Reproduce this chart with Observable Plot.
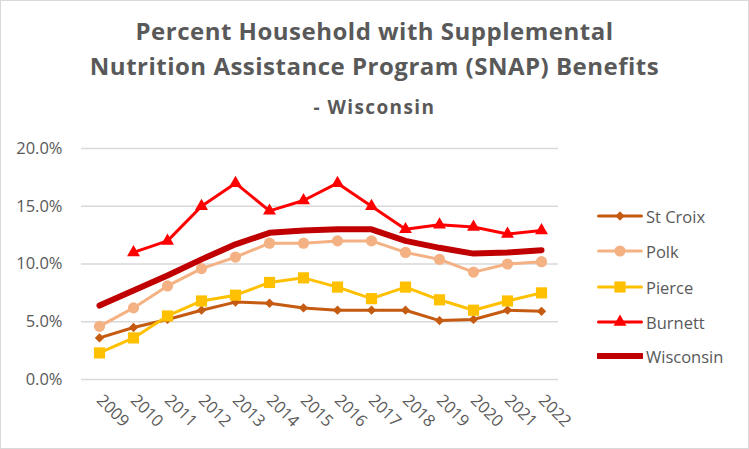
<!DOCTYPE html>
<html>
<head>
<meta charset="utf-8">
<script src="https://cdn.jsdelivr.net/npm/d3@7"></script>
<script src="https://cdn.jsdelivr.net/npm/@observablehq/plot@0.6"></script>
<style>
  html, body { margin: 0; padding: 0; background: #fff; }
  #wrap { position: relative; width: 749px; height: 449px; overflow: hidden; font-family: "Open Sans", sans-serif; color: #595959; }
  #frame { position: absolute; left: 0; top: 0; width: 749px; height: 449px; box-sizing: border-box; border: 1px solid #d9d9d9; pointer-events: none; }
  .title { position: absolute; left: 0; width: 749px; text-align: center; font-weight: bold; white-space: nowrap; }
  #t1 { top: 15px; font-size: 24px; line-height: 32px; letter-spacing: 0.5px; }
  #t2 { top: 50px; font-size: 24px; line-height: 32px; letter-spacing: 0.5px; }
  #t3 { top: 94px; font-size: 19px; line-height: 26px; letter-spacing: 1.4px; }
  #chart { position: absolute; left: 0; top: 120px; }
  .leg { position: absolute; left: 597px; height: 20px; display: flex; align-items: center; font-size: 16.5px; color: #595959; }
  .leg svg { margin-right: 3px; }
</style>
</head>
<body>
<div id="wrap">
  <div class="title" id="t1">Percent Household with Supplemental</div>
  <div class="title" id="t2">Nutrition Assistance Program (SNAP) Benefits</div>
  <div class="title" id="t3">- Wisconsin</div>
  <div id="chart"></div>
  <div id="legend"></div>
  <div id="frame"></div>
</div>
<script>
const years = ["2009","2010","2011","2012","2013","2014","2015","2016","2017","2018","2019","2020","2021","2022"];
const stCroix   = [3.6, 4.5, 5.2, 6.0, 6.7, 6.6, 6.2, 6.0, 6.0, 6.0, 5.1, 5.2, 6.0, 5.9];
const polk      = [4.6, 6.2, 8.1, 9.6, 10.6, 11.8, 11.8, 12.0, 12.0, 11.0, 10.4, 9.3, 10.0, 10.2];
const pierce    = [2.3, 3.6, 5.5, 6.8, 7.3, 8.4, 8.8, 8.0, 7.0, 8.0, 6.9, 6.0, 6.8, 7.5];
const burnett   = [null, 11.0, 12.0, 15.0, 17.0, 14.6, 15.5, 17.0, 15.0, 13.0, 13.4, 13.2, 12.6, 12.9];
const wisconsin = [6.4, 7.7, 9.0, 10.4, 11.7, 12.7, 12.9, 13.0, 13.0, 12.0, 11.4, 10.9, 11.0, 11.2];
const yTicks = [0, 5, 10, 15, 20];

const seriesNames = ["St Croix", "Polk", "Pierce", "Burnett", "Wisconsin"];
const seriesValues = [stCroix, polk, pierce, burnett, wisconsin];
const colors = ["#C55A11", "#F4B183", "#FFC000", "#FF0000", "#C00000"];
const symbols = ["diamond2", "circle", "square", "triangle", null];
const radii = [4.2, 5.6, 6.3, 4.8, 0];
const widths = [3, 3, 3, 3, 6];

const tables = seriesValues.map((vals, i) =>
  years.map((yr, j) => ({ series: seriesNames[i], year: yr, value: vals[j] })).filter(d => d.value != null)
);

const marks = [
  Plot.ruleY(yTicks, { stroke: "#d9d9d9", strokeWidth: 1.3 }),
  Plot.axisY({ ticks: yTicks, tickFormat: d => d.toFixed(1) + "%", tickSize: 0, tickPadding: 19, fontSize: 16.5, fill: "#595959" }),
  Plot.axisX({ tickRotate: 45, tickSize: 0, tickPadding: 18, fontSize: 16.5, fill: "#595959" })
];
tables.forEach((t, i) => {
  marks.push(Plot.line(t, { x: "year", y: "value", stroke: colors[i], strokeWidth: widths[i], strokeLinejoin: "round", strokeLinecap: "round" }));
  if (symbols[i]) {
    marks.push(Plot.dot(t, { x: "year", y: "value", symbol: () => symbols[i], r: radii[i], fill: colors[i], stroke: "none" }));
  }
});

const chart = Plot.plot({
  width: 749,
  height: 329,
  marginTop: 28,
  marginBottom: 70,
  marginLeft: 81,
  marginRight: 191,
  style: { fontFamily: "'Open Sans', sans-serif", fontSize: "16.5px", color: "#595959", background: "transparent" },
  x: { type: "point", domain: years, padding: 0.5, label: null },
  y: { domain: [0, 20], label: null },
  symbol: { type: "identity" },
  marks
});
document.getElementById("chart").appendChild(chart);

// legend
const legend = document.getElementById("legend");
const rowTops = [206, 241, 277, 312, 346];
seriesNames.forEach((name, i) => {
  const row = document.createElement("div");
  row.className = "leg";
  row.style.top = rowTops[i] + "px";
  const svg = d3.create("svg").attr("width", 46).attr("height", 20);
  svg.append("line").attr("x1", 1.5).attr("x2", 44.5).attr("y1", 10).attr("y2", 10)
    .attr("stroke", colors[i]).attr("stroke-width", widths[i]).attr("stroke-linecap", "round");
  if (symbols[i]) {
    const symMap = { diamond2: d3.symbolDiamond2, circle: d3.symbolCircle, square: d3.symbolSquare, triangle: d3.symbolTriangle };
    svg.append("path").attr("transform", "translate(23,10)")
      .attr("d", d3.symbol(symMap[symbols[i]], radii[i] * radii[i] * Math.PI)())
      .attr("fill", colors[i]);
  }
  row.appendChild(svg.node());
  const span = document.createElement("span");
  span.textContent = name;
  row.appendChild(span);
  legend.appendChild(row);
});
</script>
</body>
</html>
